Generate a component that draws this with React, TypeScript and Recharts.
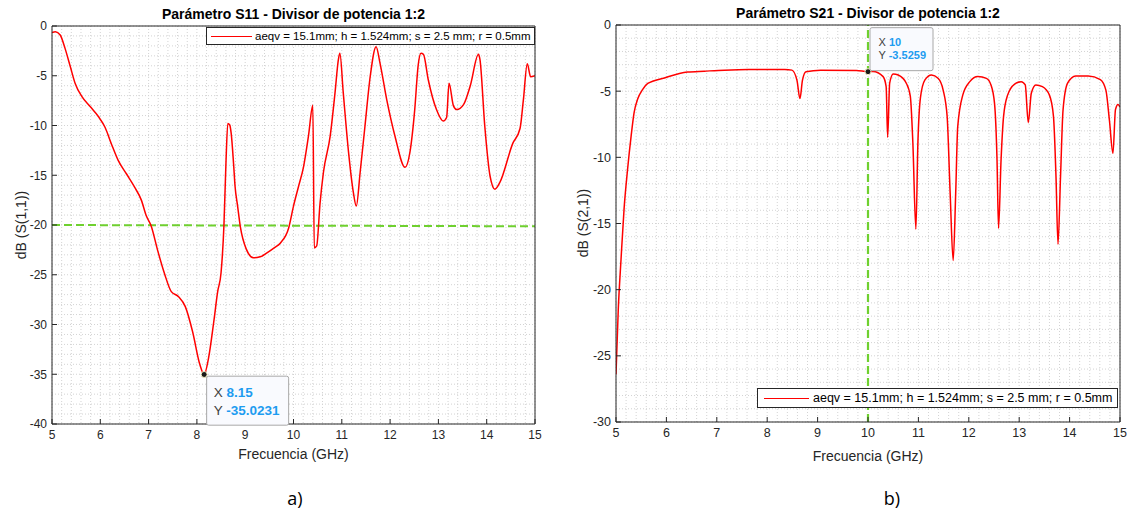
import {
  CartesianGrid,
  Line,
  LineChart,
  ReferenceDot,
  ReferenceLine,
  XAxis,
  YAxis,
} from "recharts";

const FONT = '"Liberation Sans", Arial, Helvetica, sans-serif';
const INK = "#262626";
const RED = "#ff0000";
const GREEN = "#6fd02f";
const TIP_BLUE = "#1e9cf0";

// Frequency axis shared by both panels (GHz).
const FREQ_TICKS = [5, 6, 7, 8, 9, 10, 11, 12, 13, 14, 15];
const FREQ_MINOR = Array.from({ length: 51 }, (_, i) => 5 + i * 0.2);

// a) S11 reflection
const S11_TICKS = [-40, -35, -30, -25, -20, -15, -10, -5, 0];
const S11_MINOR = Array.from({ length: 41 }, (_, i) => -40 + i);
const S11_FREQ = [
  5.0, 5.07, 5.17, 5.27, 5.38, 5.48, 5.62, 5.79, 5.96, 6.1, 6.23, 6.37, 6.54, 6.71, 6.85, 6.95,
  7.05, 7.19, 7.33, 7.47, 7.62, 7.76, 7.91, 8.06, 8.15, 8.24, 8.35, 8.43, 8.5, 8.56, 8.6, 8.64,
  8.68, 8.71, 8.76, 8.79, 8.84, 8.9, 9.02, 9.17, 9.31, 9.45, 9.6, 9.73, 9.9, 10.0, 10.1, 10.21,
  10.31, 10.4, 10.43, 10.48, 10.55, 10.62, 10.76, 10.86, 10.93, 10.96, 11.03, 11.14, 11.24,
  11.3, 11.38, 11.48, 11.59, 11.71, 11.79, 11.93, 12.1, 12.31, 12.41, 12.51, 12.58, 12.64,
  12.69, 12.79, 12.96, 13.1, 13.17, 13.22, 13.31, 13.38, 13.52, 13.66, 13.83, 13.86, 13.96,
  14.07, 14.17, 14.27, 14.54, 14.69, 14.76, 14.84, 14.91, 15.0,
];
const S11_DB = [
  -0.67, -0.57, -0.9, -2.25, -4.1, -5.78, -7.1, -8.1, -9.1, -10.2, -11.85, -13.5, -14.85,
  -16.2, -17.5, -19.05, -20.05, -22.6, -24.9, -26.7, -27.2, -28.2, -30.7, -34.0, -35.02, -33.4,
  -29.7, -26.7, -24.8, -20.0, -14.0, -9.8, -9.95, -10.8, -13.9, -16.1, -18.0, -20.2, -22.4,
  -23.3, -23.2, -22.8, -22.3, -21.8, -20.3, -18.1, -16.2, -14.1, -11.05, -7.97, -22.3, -22.1,
  -17.8, -14.7, -11.05, -6.7, -3.35, -2.75, -6.7, -12.7, -16.75, -18.1, -14.7, -10.05, -5.0,
  -2.08, -3.7, -7.4, -11.05, -14.2, -12.7, -8.4, -4.0, -2.75, -2.85, -5.4, -8.4, -9.55, -9.2,
  -5.76, -8.0, -8.4, -7.9, -6.0, -2.85, -3.35, -10.05, -15.1, -16.4, -15.75, -11.8, -10.3,
  -7.4, -3.8, -5.1, -5.0,
];
const S11_LIMIT = [
  { x: 5, y: -20 },
  { x: 15, y: -20.13 },
];
const S11_TIP = { x: 8.15, y: -35.0231 };

// b) S21 transmission
const S21_TICKS = [-30, -25, -20, -15, -10, -5, 0];
const S21_MINOR = Array.from({ length: 31 }, (_, i) => -30 + i);
const S21_FREQ = [
  5.0, 5.045, 5.1, 5.16, 5.23, 5.3, 5.36, 5.43, 5.53, 5.63, 5.96, 6.42, 6.75, 7.15, 7.63, 8.35,
  8.49, 8.59, 8.65, 8.7, 8.77, 9.06, 9.77, 10.0, 10.1, 10.3, 10.36, 10.39, 10.43, 10.5, 10.6,
  10.76, 10.84, 10.89, 10.95, 10.99, 11.04, 11.13, 11.26, 11.39, 11.49, 11.57, 11.63, 11.69,
  11.74, 11.78, 11.88, 12.02, 12.18, 12.35, 12.44, 12.51, 12.56, 12.59, 12.64, 12.69, 12.77,
  12.91, 13.04, 13.12, 13.18, 13.24, 13.33, 13.46, 13.6, 13.68, 13.73, 13.77, 13.82, 13.87,
  13.96, 14.12, 14.37, 14.61, 14.72, 14.79, 14.86, 14.91, 14.96, 15.0,
];
const S21_DB = [
  -26.4, -21.5, -17.7, -13.9, -10.9, -8.4, -6.6, -5.6, -4.87, -4.42, -4.0, -3.56, -3.49, -3.41,
  -3.36, -3.36, -3.41, -4.17, -5.56, -4.17, -3.54, -3.41, -3.43, -3.5259, -3.52, -3.9, -4.66,
  -8.48, -4.4, -3.7, -3.78, -4.4, -5.4, -8.9, -15.43, -8.9, -5.5, -4.15, -3.78, -4.03, -4.9,
  -6.9, -12.7, -17.8, -12.7, -7.7, -5.3, -4.28, -3.9, -4.03, -4.53, -5.9, -10.2, -15.36, -10.2,
  -6.9, -5.3, -4.46, -4.28, -4.53, -7.38, -5.16, -4.53, -4.66, -5.3, -6.9, -11.45, -16.57,
  -11.45, -6.42, -4.4, -3.85, -3.85, -4.12, -4.92, -7.2, -9.7, -6.4, -6.0, -6.2,
];
const S21_CUT = 10;
const S21_TIP = { x: 10, y: -3.5259 };

const LEGEND_TEXT = "aeqv = 15.1mm; h = 1.524mm; s = 2.5 mm; r = 0.5mm";

type Tip = { x: number; y: number };
type TipStyle = {
  dx: number;
  dy: number;
  w: number;
  h: number;
  fs: number;
  pad: number;
  l1: number;
  l2: number;
  above: boolean;
};

// MATLAB-style data tip drawn next to the ReferenceDot it belongs to.
function tipLabel(tip: Tip, s: TipStyle) {
  return (props: any) => {
    const vb = props.viewBox || {};
    const cx = vb.x + vb.width / 2;
    const cy = vb.y + vb.height / 2;
    const left = cx + s.dx;
    const top = s.above ? cy - s.dy - s.h : cy + s.dy;
    return (
      <g>
        <rect x={left} y={top} width={s.w} height={s.h} rx={2} fill="#f9fafe" stroke="#a8a8a8" />
        <text x={left + s.pad} y={top + s.l1} fontFamily={FONT} fontSize={s.fs}>
          <tspan fill="#404040">X </tspan>
          <tspan fill={TIP_BLUE} fontWeight="bold">
            {tip.x}
          </tspan>
        </text>
        <text x={left + s.pad} y={top + s.l2} fontFamily={FONT} fontSize={s.fs}>
          <tspan fill="#404040">Y </tspan>
          <tspan fill={TIP_BLUE} fontWeight="bold">
            {tip.y}
          </tspan>
        </text>
      </g>
    );
  };
}

function Panel({
  rows,
  yDomain,
  yTicks,
  yMinor,
  width,
  height,
  margin,
  fontSize,
  children,
}: {
  rows: { f: number; db: number }[];
  yDomain: [number, number];
  yTicks: number[];
  yMinor: number[];
  width: number;
  height: number;
  margin: { top: number; right: number; bottom: number; left: number };
  fontSize: number;
  children?: any;
}) {
  const tick = { fill: INK, fontSize, fontFamily: FONT };
  const line = { stroke: INK, strokeWidth: 1 };
  return (
    <LineChart width={width} height={height} data={rows} margin={margin}>
      <XAxis
        xAxisId="grid"
        dataKey="f"
        type="number"
        domain={[5, 15]}
        allowDataOverflow
        ticks={FREQ_MINOR}
        interval={0}
        hide
      />
      <YAxis
        yAxisId="grid"
        dataKey="db"
        type="number"
        domain={yDomain}
        allowDataOverflow
        ticks={yMinor}
        interval={0}
        hide
      />
      <CartesianGrid xAxisId="grid" yAxisId="grid" stroke="#d3d3d3" strokeDasharray="1 2" />
      <XAxis
        xAxisId="f"
        dataKey="f"
        type="number"
        domain={[5, 15]}
        allowDataOverflow
        ticks={FREQ_TICKS}
        interval={0}
        height={36}
        tickSize={-5}
        tickMargin={11}
        tick={tick}
        axisLine={line}
        tickLine={line}
      />
      <XAxis
        xAxisId="top"
        orientation="top"
        dataKey="f"
        type="number"
        domain={[5, 15]}
        allowDataOverflow
        ticks={FREQ_TICKS}
        interval={0}
        height={1}
        tickSize={-5}
        tick={false}
        axisLine={line}
        tickLine={line}
      />
      <YAxis
        yAxisId="db"
        dataKey="db"
        type="number"
        domain={yDomain}
        allowDataOverflow
        ticks={yTicks}
        interval={0}
        width={40}
        tickSize={-5}
        tickMargin={10}
        tick={tick}
        axisLine={line}
        tickLine={line}
      />
      <YAxis
        yAxisId="right"
        orientation="right"
        dataKey="db"
        type="number"
        domain={yDomain}
        allowDataOverflow
        ticks={yTicks}
        interval={0}
        width={1}
        tickSize={-5}
        tick={false}
        axisLine={line}
        tickLine={line}
      />
      {children}
    </LineChart>
  );
}

export default function App() {
  const s11Rows = S11_FREQ.map((f, i) => ({ f, db: S11_DB[i] }));
  const s21Rows = S21_FREQ.map((f, i) => ({ f, db: S21_DB[i] }));

  const title = {
    position: "absolute" as const,
    fontSize: 14,
    fontWeight: "bold" as const,
    lineHeight: "16px",
    textAlign: "center" as const,
    color: "#000",
    whiteSpace: "nowrap" as const,
  };
  const axisTitle = {
    position: "absolute" as const,
    fontSize: 14,
    lineHeight: "16px",
    textAlign: "center" as const,
    color: INK,
    whiteSpace: "nowrap" as const,
  };
  const legendBox = {
    position: "absolute" as const,
    boxSizing: "border-box" as const,
    border: `1px solid ${INK}`,
    background: "#fff",
    color: "#000",
    whiteSpace: "nowrap" as const,
  };

  return (
    <div
      style={{
        position: "absolute",
        left: 0,
        top: 0,
        width: 1131,
        height: 524,
        background: "#fff",
        fontFamily: FONT,
        overflow: "hidden",
      }}
    >
      <div style={{ position: "absolute", left: 0, top: 0 }}>
        <Panel
          rows={s11Rows}
          yDomain={[-40, 0]}
          yTicks={S11_TICKS}
          yMinor={S11_MINOR}
          width={545}
          height={470}
          margin={{ top: 25, right: 9, bottom: 10, left: 12 }}
          fontSize={12}
        >
          <ReferenceLine
            xAxisId="f"
            yAxisId="db"
            segment={S11_LIMIT}
            stroke={GREEN}
            strokeWidth={2}
            strokeDasharray="8 4"
          />
          <Line
            xAxisId="f"
            yAxisId="db"
            dataKey="db"
            type="monotone"
            stroke={RED}
            strokeWidth={1.5}
            dot={false}
            isAnimationActive={false}
          />
          <ReferenceDot
            xAxisId="f"
            yAxisId="db"
            x={S11_TIP.x}
            y={S11_TIP.y}
            r={3}
            fill="#1a1a1a"
            stroke="#f3eec4"
            strokeWidth={1}
            label={tipLabel(S11_TIP, {
              dx: 2.5,
              dy: 1.7,
              w: 82,
              h: 49,
              fs: 13.5,
              pad: 7,
              l1: 21,
              l2: 38.7,
              above: false,
            })}
          />
        </Panel>
      </div>

      <div style={{ position: "absolute", left: 570, top: 0 }}>
        <Panel
          rows={s21Rows}
          yDomain={[-30, 0]}
          yTicks={S21_TICKS}
          yMinor={S21_MINOR}
          width={561}
          height={470}
          margin={{ top: 24, right: 10, bottom: 12, left: 6 }}
          fontSize={12.5}
        >
          <ReferenceLine
            xAxisId="f"
            yAxisId="db"
            x={S21_CUT}
            stroke={GREEN}
            strokeWidth={2.2}
            strokeDasharray="8 4"
          />
          <Line
            xAxisId="f"
            yAxisId="db"
            dataKey="db"
            type="monotone"
            stroke={RED}
            strokeWidth={1.5}
            dot={false}
            isAnimationActive={false}
          />
          <ReferenceDot
            xAxisId="f"
            yAxisId="db"
            x={S21_TIP.x}
            y={S21_TIP.y}
            r={3}
            fill="#1a1a1a"
            stroke="#f3eec4"
            strokeWidth={1}
            label={tipLabel(S21_TIP, {
              dx: 2,
              dy: 1,
              w: 63,
              h: 43,
              fs: 11,
              pad: 8.5,
              l1: 18.5,
              l2: 31.5,
              above: true,
            })}
          />
        </Panel>
      </div>

      {/* titles */}
      <div style={{ ...title, left: 52, width: 483, top: 6 }}>
        Parámetro S11 - Divisor de potencia 1:2
      </div>
      <div style={{ ...title, left: 616, width: 504, top: 5 }}>
        Parámetro S21 - Divisor de potencia 1:2
      </div>

      {/* axis titles */}
      <div style={{ ...axisTitle, left: 52, width: 483, top: 446 }}>Frecuencia (GHz)</div>
      <div style={{ ...axisTitle, left: 616, width: 504, top: 448 }}>Frecuencia (GHz)</div>
      <div
        style={{ ...axisTitle, left: 20.6 - 60, top: 225 - 8, width: 120, transform: "rotate(-90deg)" }}
      >
        dB (S(1,1))
      </div>
      <div
        style={{ ...axisTitle, left: 583.4 - 60, top: 223 - 8, width: 120, transform: "rotate(-90deg)" }}
      >
        dB (S(2,1))
      </div>

      {/* legends */}
      <div style={{ ...legendBox, left: 206, top: 27, width: 329, height: 18, fontSize: 11.5 }}>
        <div style={{ position: "absolute", left: 4, top: 7.5, width: 41, height: 1.5, background: RED }} />
        <div style={{ position: "absolute", left: 48, top: 0, lineHeight: "16px" }}>{LEGEND_TEXT}</div>
      </div>
      <div style={{ ...legendBox, left: 757, top: 388, width: 361, height: 20, fontSize: 12.5 }}>
        <div style={{ position: "absolute", left: 6, top: 8.5, width: 45, height: 1.5, background: RED }} />
        <div style={{ position: "absolute", left: 55, top: 0, lineHeight: "18px" }}>{LEGEND_TEXT}</div>
      </div>

      {/* panel captions */}
      <div
        style={{
          position: "absolute",
          left: 255,
          width: 80,
          top: 486,
          textAlign: "center",
          fontFamily: '"Open Sans", "Noto Sans", sans-serif',
          fontSize: 18,
          lineHeight: "24px",
          color: "#000",
        }}
      >
        a)
      </div>
      <div
        style={{
          position: "absolute",
          left: 852,
          width: 80,
          top: 486,
          textAlign: "center",
          fontFamily: '"Open Sans", "Noto Sans", sans-serif',
          fontSize: 18,
          lineHeight: "24px",
          color: "#000",
        }}
      >
        b)
      </div>
    </div>
  );
}
